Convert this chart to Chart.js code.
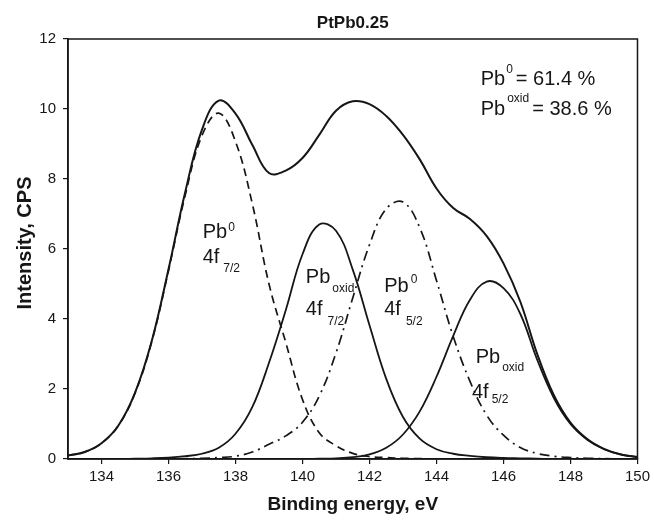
<!DOCTYPE html>
<html>
<head>
<meta charset="utf-8">
<script src="https://cdn.jsdelivr.net/npm/chart.js@4.4.1/dist/chart.umd.min.js"></script>
<style>
  html, body { margin: 0; padding: 0; background: #fff; }
  #wrap { width: 654px; height: 520px; }
</style>
</head>
<body>
<div id="wrap"><canvas id="c" width="654" height="520"></canvas></div>
<script>
// binding energy grid (eV) and fitted curves
var energy = [133, 133.5, 134, 134.5, 135, 135.5, 136, 136.5, 137, 137.5, 138, 138.5, 139, 139.5, 140, 140.5, 141, 141.5,
    142, 142.5, 143, 143.5, 144, 144.5, 145, 145.5, 146, 146.5, 147, 147.5, 148, 148.5, 149, 149.5, 150];
var pb0_72 = [0.10, 0.20, 0.45, 0.95, 1.88, 3.35, 5.38, 7.54, 9.24, 9.88, 9.07, 7.30, 5.00, 3.33, 1.70, 0.75, 0.38, 0.16,
    0.07, 0.04, 0.02, 0.01, 0, 0, 0, 0, 0, 0, 0, 0, 0, 0, 0, 0, 0];
var pbOx_72 = [0, 0, 0, 0, 0.01, 0.02, 0.04, 0.08, 0.15, 0.32, 0.72, 1.48, 2.75, 4.25, 5.85, 6.70, 6.52, 5.41,
    3.82, 2.29, 1.20, 0.58, 0.28, 0.15, 0.09, 0.05, 0.03, 0.02, 0.01, 0, 0, 0, 0, 0, 0];
var pb0_52 = [0, 0, 0, 0, 0, 0, 0, 0.01, 0.02, 0.04, 0.08, 0.20, 0.42, 0.66, 1.05, 1.80, 3.03, 4.60,
    6.12, 7.15, 7.34, 6.61, 5.10, 3.50, 2.22, 1.25, 0.68, 0.33, 0.16, 0.08, 0.04, 0.02, 0.01, 0, 0];
var pbOx_52 = [0, 0, 0, 0, 0, 0, 0, 0, 0, 0, 0, 0, 0, 0, 0, 0.01, 0.02, 0.05,
    0.13, 0.32, 0.70, 1.36, 2.35, 3.52, 4.55, 5.07, 4.88, 4.15, 2.85, 1.75, 1.00, 0.55, 0.28, 0.13, 0.06];
var envelope = [0.10, 0.20, 0.45, 0.95, 1.89, 3.37, 5.42, 7.63, 9.41, 10.24, 9.87, 8.98, 8.17, 8.24, 8.60, 9.26, 9.95, 10.22,
    10.14, 9.80, 9.26, 8.56, 7.73, 7.17, 6.86, 6.37, 5.59, 4.50, 3.02, 1.83, 1.04, 0.57, 0.29, 0.13, 0.06];

var xTicks = [134, 136, 138, 140, 142, 144, 146, 148, 150];
var yTicks = [0, 2, 4, 6, 8, 10, 12];

var chartTitle = "PtPb0.25";
var xTitle = "Binding energy, eV";
var yTitle = "Intensity, CPS";

// text on the plot, anchored in data units
var notes = [
    { e: 137.02, v: 6.31, text: "Pb", small: "0", dx: 1, dy: -7 },
    { e: 137.02, v: 5.60, text: "4f", small: "7/2", dx: 4, dy: 9 },
    { e: 140.10, v: 5.03, text: "Pb", small: "oxid", dx: 2, dy: 9 },
    { e: 140.10, v: 4.11, text: "4f", small: "7/2", dx: 5, dy: 10 },
    { e: 142.44, v: 4.78, text: "Pb", small: "0", dx: 2, dy: -9 },
    { e: 142.44, v: 4.11, text: "4f", small: "5/2", dx: 5, dy: 10 },
    { e: 145.17, v: 2.74, text: "Pb", small: "oxid", dx: 2, dy: 8 },
    { e: 145.06, v: 1.74, text: "4f", small: "5/2", dx: 3, dy: 5 },
    { e: 145.32, v: 10.69, text: "Pb", small: "0", dx: 1, dy: -12, tail: "= 61.4 %" },
    { e: 145.32, v: 9.83, text: "Pb", small: "oxid", dx: 2, dy: -13, tail: "= 38.6 %" }
];

var FONT = '"Liberation Sans", Arial, sans-serif';
var INK = "#161616";

function pts(arr) {
    return energy.map(function (e, i) { return { x: e, y: arr[i] }; });
}

function line(arr, width, dash) {
    return {
        data: pts(arr),
        borderColor: INK,
        borderWidth: width,
        borderDash: dash || [],
        pointRadius: 0,
        fill: false,
        tension: 0.4
    };
}

var textPlugin = {
    id: "texts",
    afterDraw: function (chart) {
        var ctx = chart.ctx, a = chart.chartArea;
        var xs = chart.scales.x, ys = chart.scales.y;
        ctx.save();
        // box around the plot
        ctx.strokeStyle = INK;
        ctx.lineWidth = 1.5;
        ctx.strokeRect(a.left, a.top, a.right - a.left, a.bottom - a.top);

        ctx.fillStyle = INK;
        ctx.textBaseline = "alphabetic";
        ctx.textAlign = "center";
        ctx.font = "bold 17px " + FONT;
        ctx.fillText(chartTitle, (a.left + a.right) / 2, 28);
        ctx.font = "bold 19px " + FONT;
        ctx.fillText(xTitle, (a.left + a.right) / 2, 510);
        ctx.save();
        ctx.translate(31, 243);
        ctx.rotate(-Math.PI / 2);
        ctx.font = "bold 20px " + FONT;
        ctx.fillText(yTitle, 0, 0);
        ctx.restore();

        ctx.textAlign = "left";
        notes.forEach(function (n) {
            var px = xs.getPixelForValue(n.e), py = ys.getPixelForValue(n.v);
            ctx.font = "20px " + FONT;
            ctx.fillText(n.text, px, py);
            var sx = px + ctx.measureText(n.text).width + n.dx;
            ctx.font = "12px " + FONT;
            ctx.fillText(n.small, sx, py + n.dy);
            if (n.tail) {
                var tx = sx + ctx.measureText(n.small).width + 3;
                ctx.font = "20px " + FONT;
                ctx.fillText(n.tail, tx, py);
            }
        });
        ctx.restore();
    }
};

var axisFont = { family: FONT, size: 15 };

new Chart(document.getElementById("c"), {
    type: "line",
    data: {
        datasets: [
            line(pb0_72, 1.7, [8, 5]),
            line(pbOx_72, 1.8),
            line(pb0_52, 1.7, [10, 5, 2, 5]),
            line(pbOx_52, 1.8),
            line(envelope, 2)
        ]
    },
    options: {
        responsive: false,
        animation: false,
        devicePixelRatio: 1,
        layout: { padding: { left: 0, right: 15, top: 39, bottom: 0 } },
        plugins: { legend: { display: false }, tooltip: { enabled: false }, title: { display: false } },
        scales: {
            x: {
                type: "linear",
                min: 133,
                max: 150,
                afterFit: function (s) { s.height = 61; },
                afterBuildTicks: function (s) { s.ticks = xTicks.map(function (v) { return { value: v }; }); },
                ticks: { font: axisFont, color: INK, padding: 4, maxRotation: 0, autoSkip: false },
                grid: { drawOnChartArea: false, tickLength: 5, color: INK, lineWidth: 1.2 },
                border: { color: INK, width: 1.5 }
            },
            y: {
                min: 0,
                max: 12,
                afterFit: function (s) { s.width = 68; },
                afterBuildTicks: function (s) { s.ticks = yTicks.map(function (v) { return { value: v }; }); },
                ticks: { font: axisFont, color: INK, padding: 7 },
                grid: { drawOnChartArea: false, tickLength: 5, color: INK, lineWidth: 1.2 },
                border: { color: INK, width: 1.5 }
            }
        }
    },
    plugins: [textPlugin]
});
</script>
</body>
</html>
